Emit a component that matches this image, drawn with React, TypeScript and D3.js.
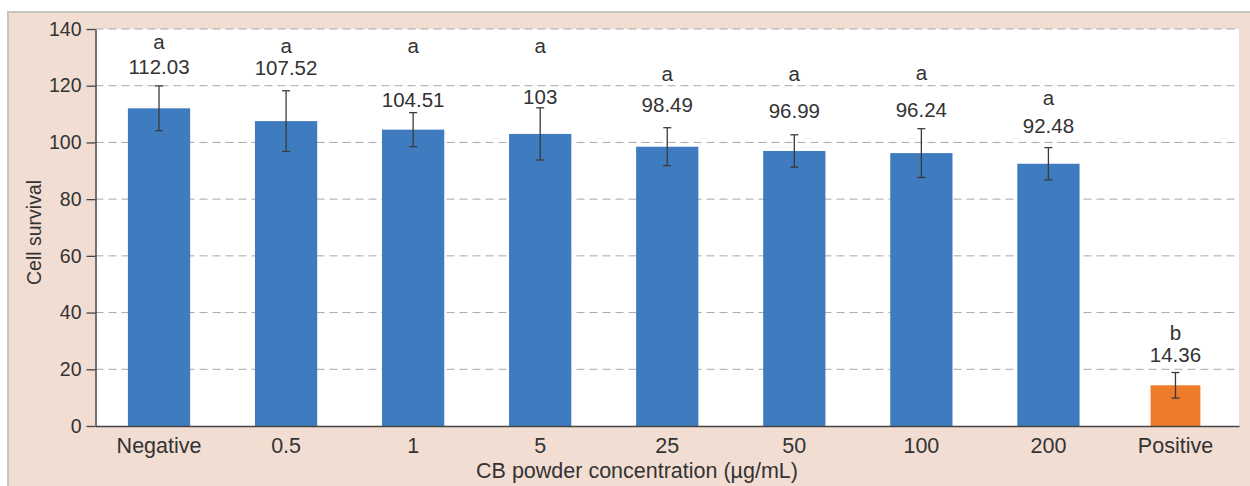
import { useEffect, useRef } from "react";
import * as d3 from "d3";

// values
const categories = ["Negative", "0.5", "1", "5", "25", "50", "100", "200", "Positive"];
const means = [112.03, 107.52, 104.51, 103, 98.49, 96.99, 96.24, 92.48, 14.36];
const errors = [7.9, 10.7, 6, 9.2, 6.7, 5.7, 8.6, 5.7, 4.5];
const letters = ["a", "a", "a", "a", "a", "a", "a", "a", "b"];
// label baselines, in data units
const letterY = [133, 131.7, 131.7, 131.7, 121.7, 121.7, 122, 113.2, 30.3];
const valueY = [124.2, 123.8, 112.4, 113.6, 110.9, 108.5, 108.9, 103.5, 22.7];
const yTicks = [0, 20, 40, 60, 80, 100, 120, 140];

const W = 1250;
const H = 486;
const FONT = "'Liberation Sans', Arial, sans-serif";
const TEXT = "#333333";
const BLUE = "#3f7cbf";
const ORANGE = "#ee7b2a";

export default function App() {
  const svgRef = useRef<SVGSVGElement>(null);

  useEffect(() => {
    document.body.style.margin = "0";
    const svg = d3.select(svgRef.current);
    svg.selectAll("*").remove();

    const left = 95.5;
    const right = 1239;
    const top = 29;
    const bottom = 426;

    // panel background + border
    svg.append("rect").attr("width", W).attr("height", H).attr("fill", "#ffffff");
    svg
      .append("rect")
      .attr("x", 8)
      .attr("y", 12)
      .attr("width", W - 8)
      .attr("height", H - 12)
      .attr("fill", "#f2ddd3");
    svg
      .append("path")
      .attr("d", `M8,${H} V12 H${W}`)
      .attr("fill", "none")
      .attr("stroke", "#c4c4c4")
      .attr("stroke-width", 2);

    svg
      .append("rect")
      .attr("x", left)
      .attr("y", top)
      .attr("width", right - left)
      .attr("height", bottom - top)
      .attr("fill", "#ffffff");

    const x = d3
      .scaleBand<string>()
      .domain(categories)
      .range([left, right])
      .paddingInner(0.51)
      .paddingOuter(0.255);
    const y = d3.scaleLinear().domain([0, 140]).range([bottom, top]);

    // grid
    svg
      .append("g")
      .selectAll("line")
      .data(yTicks.filter((t) => t > 0))
      .join("line")
      .attr("x1", left)
      .attr("x2", right)
      .attr("y1", (d) => y(d))
      .attr("y2", (d) => y(d))
      .attr("stroke", "#a9a9a9")
      .attr("stroke-width", 1)
      .attr("stroke-dasharray", "8,5");

    // bars
    const data = categories.map((c, i) => ({
      c,
      v: means[i],
      e: errors[i],
      l: letters[i],
      ly: letterY[i],
      vy: valueY[i],
    }));
    const bw = x.bandwidth();
    const widthOf = (c: string) => (c === "Positive" ? bw * 0.8 : bw);

    svg
      .append("g")
      .selectAll("rect")
      .data(data)
      .join("rect")
      .attr("x", (d) => x(d.c)! + (bw - widthOf(d.c)) / 2)
      .attr("width", (d) => widthOf(d.c))
      .attr("y", (d) => y(d.v))
      .attr("height", (d) => y(0) - y(d.v))
      .attr("fill", (d) => (d.c === "Positive" ? ORANGE : BLUE));

    // error bars
    const eg = svg.append("g").attr("stroke", "#3a3a3a").attr("stroke-width", 1.3);
    data.forEach((d) => {
      const cx = x(d.c)! + bw / 2;
      const y1 = y(d.v + d.e);
      const y0 = y(d.v - d.e);
      eg.append("line").attr("x1", cx).attr("x2", cx).attr("y1", y1).attr("y2", y0);
      eg.append("line").attr("x1", cx - 4).attr("x2", cx + 4).attr("y1", y1).attr("y2", y1);
      eg.append("line").attr("x1", cx - 4).attr("x2", cx + 4).attr("y1", y0).attr("y2", y0);
    });

    // labels
    const lg = svg
      .append("g")
      .attr("font-family", FONT)
      .attr("font-size", 20.5)
      .attr("fill", TEXT)
      .attr("text-anchor", "middle");
    lg.selectAll("text.l")
      .data(data)
      .join("text")
      .attr("class", "l")
      .attr("x", (d) => x(d.c)! + bw / 2)
      .attr("y", (d) => y(d.ly))
      .text((d) => d.l);
    lg.selectAll("text.v")
      .data(data)
      .join("text")
      .attr("class", "v")
      .attr("x", (d) => x(d.c)! + bw / 2)
      .attr("y", (d) => y(d.vy))
      .text((d) => String(d.v));

    // y axis
    const yAxis = svg
      .append("g")
      .attr("transform", `translate(${left},0)`)
      .call(d3.axisLeft(y).tickValues(yTicks).tickSize(9).tickPadding(5).tickSizeOuter(0));
    yAxis.select(".domain").attr("stroke", "#444").attr("stroke-width", 1.5);
    yAxis.selectAll(".tick line").attr("stroke", "#444").attr("stroke-width", 1.3);
    yAxis
      .selectAll(".tick text")
      .attr("font-family", FONT)
      .attr("font-size", 19.5)
      .attr("fill", TEXT);

    // x axis
    const xAxis = svg
      .append("g")
      .attr("transform", `translate(0,${bottom})`)
      .call(d3.axisBottom(x).tickSize(0).tickPadding(12).tickSizeOuter(0));
    xAxis.select(".domain").attr("stroke", "#444").attr("stroke-width", 1.5);
    xAxis
      .selectAll(".tick text")
      .attr("font-family", FONT)
      .attr("font-size", 21.5)
      .attr("fill", TEXT);

    // titles
    svg
      .append("text")
      .attr("x", 637)
      .attr("y", 478)
      .attr("text-anchor", "middle")
      .attr("font-family", FONT)
      .attr("font-size", 21.5)
      .attr("fill", TEXT)
      .text("CB powder concentration (µg/mL)");
    svg
      .append("text")
      .attr("transform", `translate(41,${(top + bottom) / 2 + 5}) rotate(-90)`)
      .attr("text-anchor", "middle")
      .attr("font-family", FONT)
      .attr("font-size", 19.5)
      .attr("fill", TEXT)
      .text("Cell survival");
  }, []);

  return (
    <svg
      ref={svgRef}
      width={W}
      height={H}
      style={{ display: "block", position: "absolute", left: 0, top: 0 }}
    />
  );
}
